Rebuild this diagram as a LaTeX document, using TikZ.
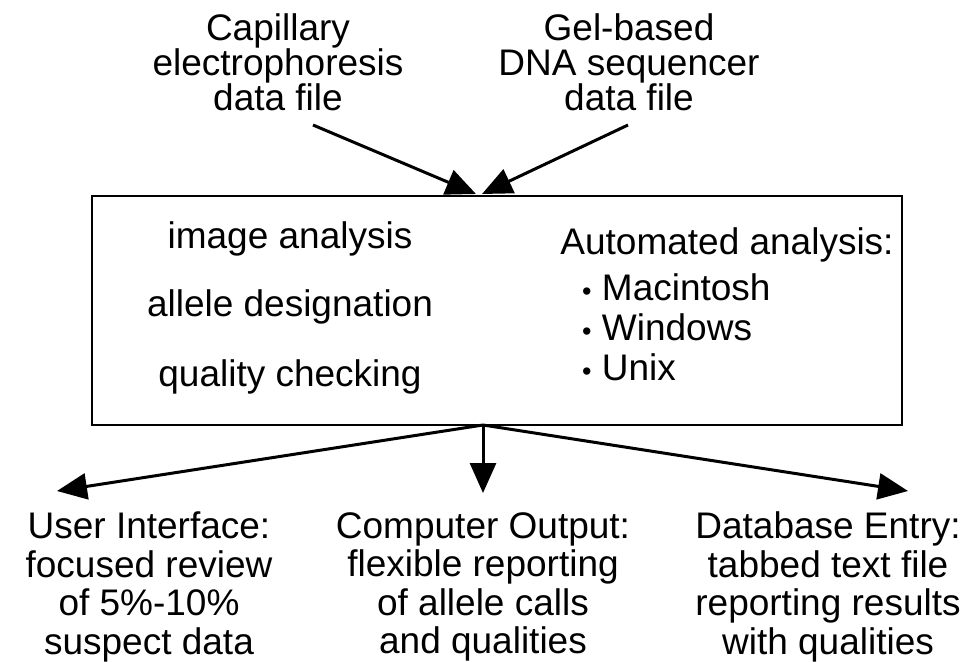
\documentclass[tikz,border=0pt]{standalone}
\usepackage{fontspec}
\setmainfont{Liberation Sans}
\usetikzlibrary{arrows.meta}
\newcommand{\smallbul}{{\fontsize{27}{27}\selectfont •}}
\tikzset{
  lbl/.style={align=center, inner sep=0pt, font=\fontsize{37}{35}\selectfont},
  lblb/.style={align=center, inner sep=0pt, font=\fontsize{37}{38.5}\selectfont},
  item/.style={anchor=west, inner sep=0pt, font=\fontsize{37}{35}\selectfont},
  arr/.style={line width=3pt, -{Triangle[width=26pt,length=30pt]}},
  mainbox/.style={draw, line width=2pt, minimum width=810pt, minimum height=229pt, inner sep=0pt}
}
\begin{document}
\begin{tikzpicture}[x=1pt,y=-1pt]
\useasboundingbox (0,0) rectangle (976,661);
\node[mainbox] (box) at (497,310.5) {};
\node[lbl] (cap) at (278,62) {Capillary\\electrophoresis\\data file};
\node[lbl] (gel) at (629,62) {Gel-based\\DNA sequencer\\data file};
\node[lbl] (ia) at (290,239) {image analysis};
\node[lbl] (ad) at (290,307) {allele designation};
\node[lbl] (qc) at (290,377) {quality checking};
\node[lbl] (auto) at (727,245) {Automated analysis:};
\node[item] (mac) at (582,287) {\smallbul\ Macintosh};
\node[item] (win) at (582,327) {\smallbul\ Windows};
\node[item] (unx) at (582,367) {\smallbul\ Unix};
\node[lblb] (ui) at (149,587) {User Interface:\\focused review\\of 5\%-10\%\\suspect data};
\node[lblb] (co) at (483,587) {Computer Output:\\flexible reporting\\of allele calls\\and qualities};
\node[lblb] (db) at (828,587) {Database Entry:\\tabbed text file\\reporting results\\with qualities};
\coordinate (s1) at (313,125);
\coordinate (s2) at (628,125);
\coordinate (t1) at (476,194);
\coordinate (t2) at (482,194);
\coordinate (b) at (483,425);
\coordinate (e1) at (57,491);
\coordinate (e2) at (483,493);
\coordinate (e3) at (908,491);
\draw[arr] (s1) -- (t1);
\draw[arr] (s2) -- (t2);
\draw[arr] (b) -- (e1);
\draw[arr] (b) -- (e2);
\draw[arr] (b) -- (e3);
\end{tikzpicture}
\end{document}
